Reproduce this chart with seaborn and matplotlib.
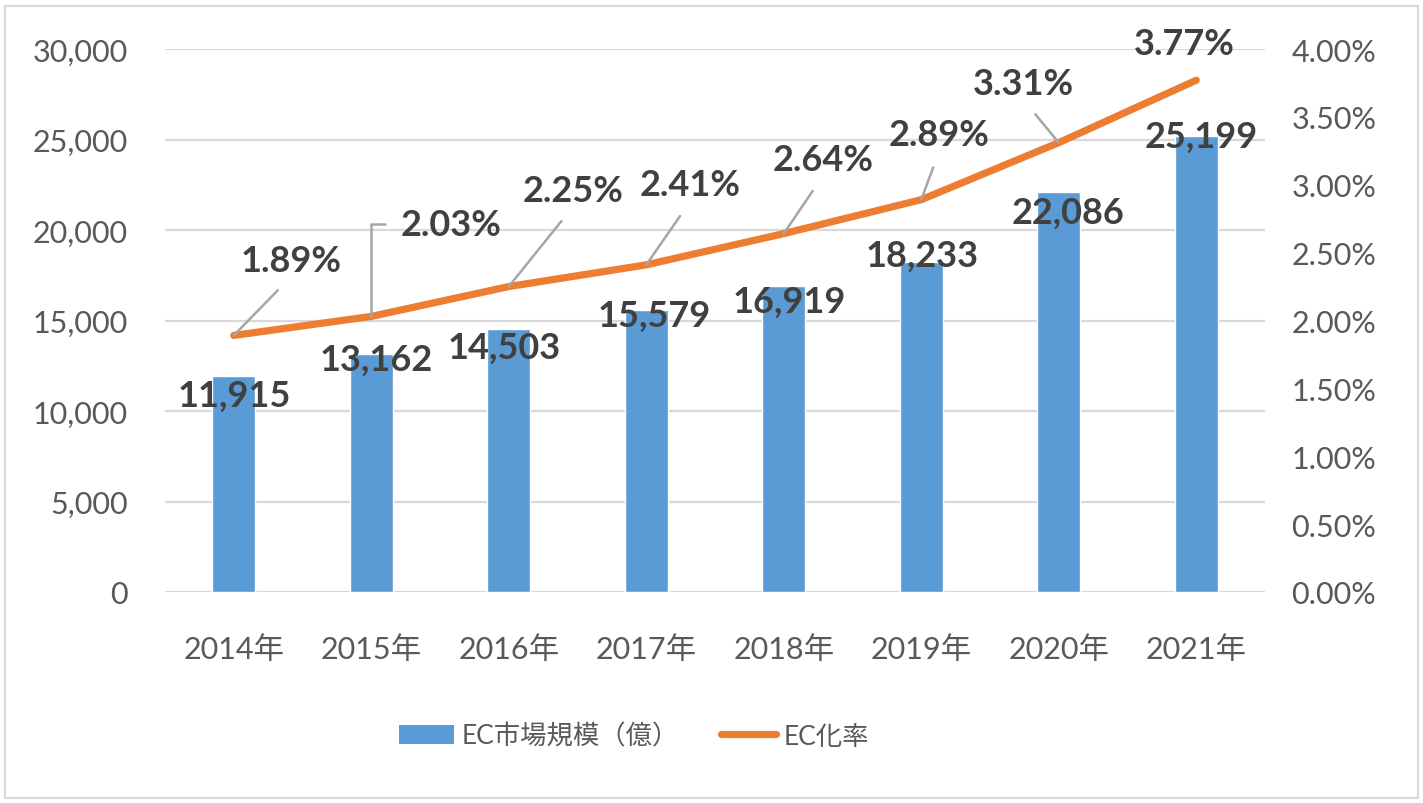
import numpy as np
import pandas as pd
import matplotlib.pyplot as plt
import seaborn as sns
from matplotlib.patches import Rectangle, Patch
from matplotlib.lines import Line2D
from matplotlib.ticker import FuncFormatter, MultipleLocator

# データ
years = ['2014年', '2015年', '2016年', '2017年', '2018年', '2019年', '2020年', '2021年']
market = [11915, 13162, 14503, 15579, 16919, 18233, 22086, 25199]
ec_rate = [1.89, 2.03, 2.25, 2.41, 2.64, 2.89, 3.31, 3.77]

# ラベル位置のずらし (pixels)
bar_lbl_dx = [1, 5, -4, 8, 6, 1, 9, 5]
bar_lbl_dy = [-19, -5, -18, -5, -15, 7, -20, 0]
pct_lbl_dx = [57, 80, 64, 44, 39, 18, -35, -12]
pct_lbl_dy = [75, 92, 96, 80, 74, 65, 59, 37]

sns.set_style('white')
plt.rcParams['font.family'] = ['Lato', 'Noto Sans CJK JP', 'DejaVu Sans']

BLUE = '#5B9BD5'
ORANGE = '#ED7D31'
TXT = '#595959'
LBL = '#404040'
GRID = '#D9D9D9'

df = pd.DataFrame({'year': years, 'market': market, 'rate': ec_rate})

fig = plt.figure(figsize=(14.23, 8.04), dpi=100)
ax = fig.add_axes([165 / 1423, 1 - 593 / 804, 1100 / 1423, 543 / 804])

sns.barplot(data=df, x='year', y='market', color=BLUE, width=0.31,
            saturation=1, ax=ax)
ax.set_xlim(-0.5, 7.5)
ax.set_ylim(0, 30000)
ax.yaxis.set_major_locator(MultipleLocator(5000))
ax.yaxis.set_major_formatter(FuncFormatter(lambda v, p: f'{v:,.0f}'))
ax.grid(axis='y', color=GRID, lw=1.6)
ax.set_axisbelow(True)
ax.set_xlabel('')
ax.set_ylabel('')
for s in ax.spines.values():
    s.set_visible(False)
ax.tick_params(axis='y', length=0, pad=27, labelsize=22, labelcolor=TXT)
ax.tick_params(axis='x', length=0, pad=31, labelsize=22, labelcolor=TXT)

ax2 = ax.twinx()
sns.lineplot(x=np.arange(len(years)), y=ec_rate, ax=ax2, color=ORANGE,
             lw=5.2, solid_capstyle='round')
ax2.set_ylim(0, 4)
ax2.set_xlim(-0.5, 7.5)
ax2.yaxis.set_major_locator(MultipleLocator(0.5))
ax2.yaxis.set_major_formatter(FuncFormatter(lambda v, p: f'{v:.2f}%'))
ax2.grid(False)
for s in ax2.spines.values():
    s.set_visible(False)
ax2.tick_params(axis='y', length=0, pad=19, labelsize=22, labelcolor=TXT)

# 棒グラフのラベル
for i, v in enumerate(market):
    ax.annotate(f'{v:,}', xy=(i, v), xytext=(bar_lbl_dx[i], bar_lbl_dy[i]),
                textcoords='offset pixels', ha='center', va='center',
                fontsize=26, fontweight='bold', color=LBL)

# EC化率のラベル（引き出し線つき）
for i, r in enumerate(ec_rate):
    props = None
    if i < len(ec_rate) - 1:
        if i == 1:
            props = dict(arrowstyle='-', color='#A6A6A6', lw=1.8,
                         connectionstyle='angle,angleA=0,angleB=90,rad=0',
                         relpos=(0, 0.5), shrinkA=9, shrinkB=0)
        else:
            props = dict(arrowstyle='-', color='#A6A6A6', lw=1.8,
                         relpos=(0.5, 0), shrinkA=10, shrinkB=0)
    ax2.annotate(f'{r:.2f}%', xy=(i, r), xytext=(pct_lbl_dx[i], pct_lbl_dy[i]),
                 textcoords='offset pixels', ha='center', va='center',
                 fontsize=26, fontweight='bold', color=LBL, arrowprops=props)

handles = [Patch(facecolor=BLUE, edgecolor='none'),
           Line2D([0], [0], color=ORANGE, lw=5.2, solid_capstyle='round')]
fig.legend(handles, ['EC市場規模（億）', 'EC化率'], loc='center',
           bbox_to_anchor=(634 / 1423, 1 - 737 / 804), ncol=2, frameon=False,
           fontsize=19, labelcolor=TXT, handlelength=2.1, handletextpad=0.27,
           columnspacing=1.6)

fig.add_artist(Rectangle((5 / 1423, 5 / 804), 1413 / 1423, 792 / 804,
                         transform=fig.transFigure, fill=False,
                         ec=GRID, lw=1.5))

plt.savefig('out.png', dpi=100)
